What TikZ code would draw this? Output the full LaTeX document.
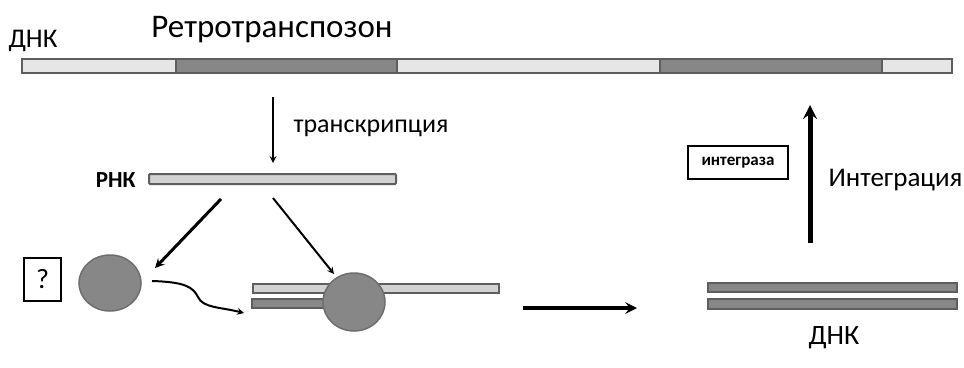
\documentclass[tikz,border=0pt]{standalone}
\usepackage{fontspec}
\setmainfont{Carlito}
\usetikzlibrary{shapes.geometric}
\definecolor{lightstrand}{HTML}{E6E6E6}
\definecolor{rnastrand}{HTML}{D2D2D2}
\definecolor{darkstrand}{HTML}{878787}
\definecolor{edgegray}{HTML}{5E5E5E}
\tikzset{
  strand/.style={draw=edgegray, line width=2pt, inner sep=0pt, rectangle},
  enzyme/.style={ellipse, draw=edgegray!90, line width=1.5pt, fill=darkstrand, inner sep=0pt},
  labelbox/.style={draw, line width=1.3pt, inner sep=0pt, align=center}
}
\begin{document}
\begin{tikzpicture}[x=1pt, y=-1pt, >=stealth]
\useasboundingbox (0,0) rectangle (964,367);

% retrotransposon in the DNA
\node[strand, fill=lightstrand, minimum width=154, minimum height=14] (l1) at (99,66) {};
\node[strand, fill=darkstrand, minimum width=221, minimum height=14] (r1) at (286.5,66) {};
\node[strand, fill=lightstrand, minimum width=263, minimum height=14] (l2) at (528.5,66) {};
\node[strand, fill=darkstrand, minimum width=222, minimum height=14] (r2) at (771,66) {};
\node[strand, fill=lightstrand, minimum width=70, minimum height=14] (l3) at (917,66) {};
\node[font=\fontsize{27}{29}\selectfont] (dnk1) at (33,41) {ДНК};
\node[font=\fontsize{33}{35}\selectfont] (retro) at (272,30) {Ретротранспозон};

% transcription
\coordinate (t1) at (273,97);
\coordinate (t2) at (273,163);
\draw[->, line width=2pt] (t1) -- (t2);
\node[anchor=west, font=\fontsize{26}{28}\selectfont] (trans) at (290,128) {транскрипция};

\node[strand, fill=rnastrand, rounded corners=1pt, minimum width=247, minimum height=10] (rna) at (272.5,179) {};
\node[anchor=east, font=\fontsize{23}{25}\selectfont\bfseries] (rnalbl) at (139,180) {РНК};

% enzyme on its own
\node[labelbox, minimum width=37, minimum height=43, font=\fontsize{28}{30}\selectfont] (q) at (42.5,279.5) {?};
\node[enzyme, minimum width=62, minimum height=56] (e1) at (110,283) {};

% reverse transcription
\node[strand, fill=rnastrand, minimum width=246, minimum height=9] (hyb1) at (376,288) {};
\node[strand, fill=darkstrand, minimum width=88, minimum height=9] (hyb2) at (296,303.5) {};
\node[enzyme, minimum width=62, minimum height=58] (e2) at (354,302) {};

\coordinate (a1) at (221,199);
\coordinate (a2) at (155,268);
\coordinate (b1) at (273,198);
\coordinate (b2) at (334,274);
\draw[->, line width=3pt] (a1) -- (a2);
\draw[->, line width=2pt] (b1) -- (b2);

\coordinate (w1) at (152,281);
\coordinate (w2) at (244,313);
\draw[->, line width=2pt] (w1) .. controls (185,282) and (193,287) .. (198,297)
  .. controls (203,308) and (220,307) .. (w2);

% double-stranded DNA
\node[strand, fill=darkstrand, minimum width=249, minimum height=9] (ds1) at (832.5,287.5) {};
\node[strand, fill=darkstrand, minimum width=249, minimum height=10] (ds2) at (832.5,304) {};
\node[font=\fontsize{28}{30}\selectfont] (dnk2) at (834,338) {ДНК};

\coordinate (h1) at (523,308);
\coordinate (h2) at (637,308);
\draw[->, line width=4pt] (h1) -- (h2);

% integration
\coordinate (i1) at (810,243);
\coordinate (i2) at (810,105);
\draw[->, line width=5pt] (i1) -- (i2);
\node[labelbox, minimum width=100, minimum height=33, font=\fontsize{17}{19}\selectfont\bfseries] (integrase) at (738,162.5) {интеграза};
\node[anchor=west, font=\fontsize{27}{29}\selectfont] (integr) at (825,180) {Интеграция};
\end{tikzpicture}
\end{document}
